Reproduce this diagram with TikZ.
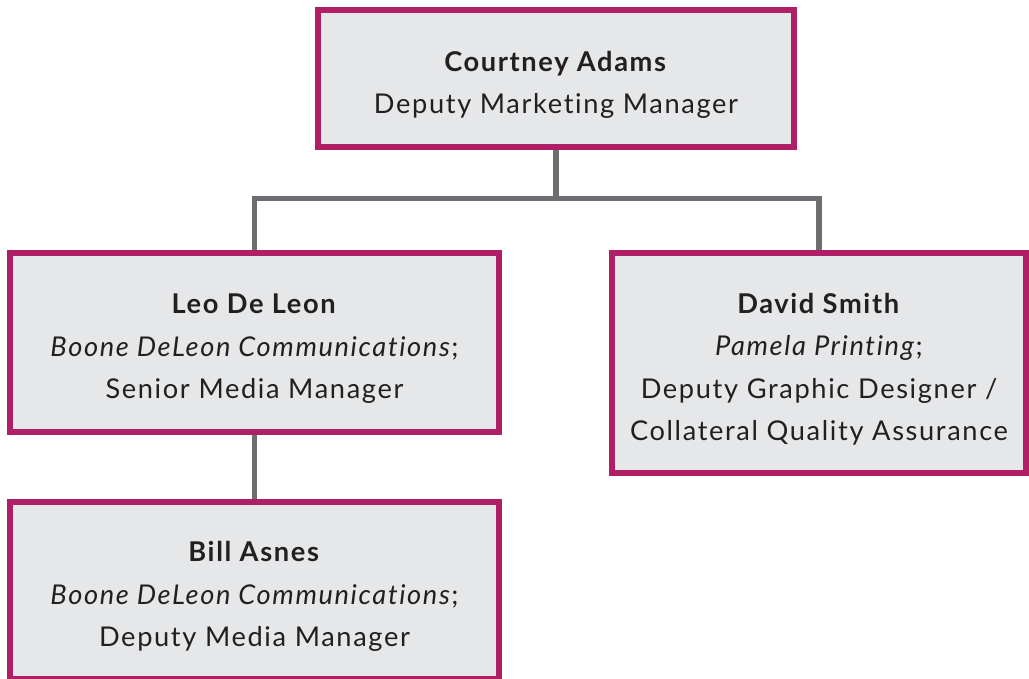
\documentclass[tikz,border=0pt]{standalone}
\usepackage{fontspec}
\setmainfont{Lato}[LetterSpace=6,Ligatures=NoCommon]
\usetikzlibrary{backgrounds}
\definecolor{boxpink}{HTML}{B01F65}
\definecolor{boxfill}{HTML}{E6E7E8}
\definecolor{linkgray}{HTML}{6D6E71}
\definecolor{textdark}{HTML}{231F20}
\newcommand{\personname}[1]{\rule{0pt}{18.5pt}\textbf{#1}}
\tikzset{
  person/.style={rectangle, draw=boxpink, fill=boxfill, line width=3.3pt,
    align=center, text=textdark, inner sep=0pt,
    font=\fontsize{15.5}{24.2}\selectfont},
  link/.style={draw=linkgray, line width=3.2pt},
}
\begin{document}
\begin{tikzpicture}[x=0.02cm,y=-0.02cm]
        \useasboundingbox (0,0) rectangle (1029,679);
        \node[person, minimum width=9.52cm, minimum height=2.74cm] (courtney) at (556,78.5)
            {\personname{Courtney Adams}\\Deputy Marketing Manager};
        \node[person, minimum width=9.78cm, minimum height=3.58cm] (leo) at (254.5,342.5)
            {\personname{Leo De Leon}\\\textit{Boone DeLeon Communications};\\Senior Media Manager};
        \node[person, minimum width=8.28cm, minimum height=4.4cm] (david) at (819,363)
            {\personname{David Smith}\\\textit{Pamela Printing};\\Deputy Graphic Designer /\\Collateral Quality Assurance};
        \node[person, minimum width=9.78cm, minimum height=3.54cm] (bill) at (254.5,590.5)
            {\personname{Bill Asnes}\\\textit{Boone DeLeon Communications};\\Deputy Media Manager};
        \coordinate (bus) at (556,198.5);
        \begin{scope}[on background layer]
            \draw[link] (courtney.south) -- (bus);
            \draw[link] (leo.north) |- (bus) -| (david.north);
            \draw[link] (leo.south) -- (bill.north);
        \end{scope}
    \end{tikzpicture}
\end{document}
